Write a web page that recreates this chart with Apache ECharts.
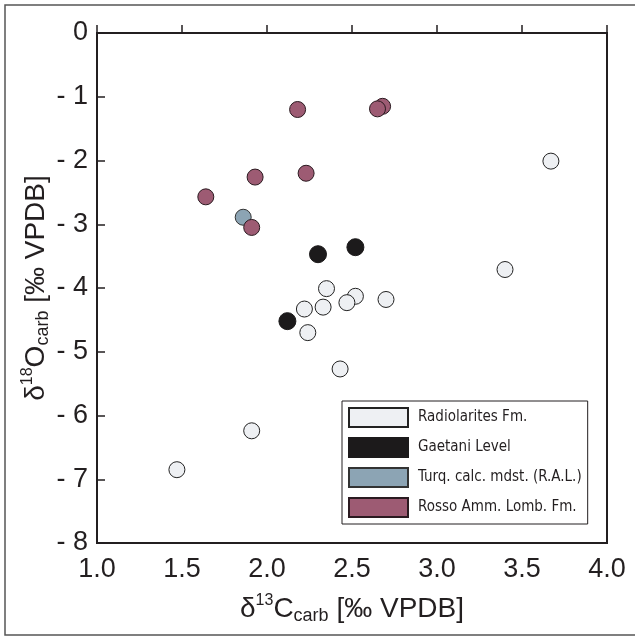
<!DOCTYPE html>
<html>
<head>
<meta charset="utf-8">
<script src="https://cdn.jsdelivr.net/npm/echarts@6/dist/echarts.min.js"></script>
<style>
  html, body { margin: 0; padding: 0; background: #fff; }
  #chart { width: 635px; height: 636px; }
</style>
</head>
<body>
<div id="chart"></div>
<script>
// d13C / d18O values
const radiolarites = [
  [3.67, -2.01], [3.40, -3.71], [2.35, -4.01], [2.52, -4.13],
  [2.47, -4.23], [2.70, -4.18], [2.22, -4.33], [2.33, -4.30],
  [2.24, -4.70], [2.43, -5.27], [1.91, -6.24], [1.47, -6.85]
]
const gaetani = [[2.30, -3.47], [2.52, -3.36], [2.12, -4.52]]
const turquoise = [[1.86, -2.89]]
const rosso = [
  [2.18, -1.20], [2.68, -1.15], [2.65, -1.19], [2.23, -2.20],
  [1.93, -2.26], [1.64, -2.57], [1.91, -3.05]
]
const seriesNames = ['Radiolarites Fm.', 'Gaetani Level', 'Turq. calc. mdst. (R.A.L.)', 'Rosso Amm. Lomb. Fm.']

const chart = echarts.init(document.getElementById('chart'))
const font = '"Liberation Sans", Arial, sans-serif'
const legendFont = '"DejaVu Sans Condensed", "DejaVu Sans", sans-serif'
const ink = '#231f20'

const nameRich = {
  m: { fontSize: 28, fontFamily: font, color: ink, lineHeight: 32 },
  sup: { fontSize: 16, fontFamily: font, color: ink, verticalAlign: 'top', lineHeight: 16 },
  sub: { fontSize: 18, fontFamily: font, color: ink, verticalAlign: 'bottom', lineHeight: 20 }
}

function scatter(name, data, color, size, border) {
  return {
    name: name,
    type: 'scatter',
    data: data,
    symbol: 'circle',
    symbolSize: size,
    itemStyle: { color: color, borderColor: border, borderWidth: 1, opacity: 1 },
    emphasis: { disabled: true }
  }
}

chart.setOption({
  backgroundColor: '#fff',
  animation: false,
  grid: {
    left: 97, top: 33, right: 28, bottom: 93,
    show: true, borderColor: ink, borderWidth: 2
  },
  graphic: [{
    type: 'rect',
    shape: { x: 5, y: 5, width: 640, height: 630 },
    style: { fill: 'none', stroke: '#555', lineWidth: 1.5 },
    silent: true
  }],
  legend: {
    orient: 'vertical',
    left: 342,
    top: 401,
    itemWidth: 59,
    itemHeight: 19,
    itemGap: 9,
    padding: [6, 6, 6, 6],
    icon: 'rect',
    backgroundColor: '#fff',
    borderColor: ink,
    borderWidth: 1,
    borderRadius: 0,
    selectedMode: false,
    data: seriesNames,
    textStyle: { fontFamily: legendFont, fontSize: 15, color: ink, padding: [0, 0, 0, 5] }
  },
  xAxis: {
    type: 'value',
    min: 1, max: 4, interval: 0.5,
    name: '{m|δ}{sup|13}{m|C}{sub|carb}{m| [‰ VPDB]}',
    nameLocation: 'middle',
    nameGap: 50,
    nameMoveOverlap: false,
    nameTextStyle: { rich: nameRich },
    axisLine: { show: true, lineStyle: { color: ink, width: 2 } },
    axisTick: { show: true, inside: true, length: 8, lineStyle: { color: ink, width: 1.5 } },
    axisLabel: {
      margin: 13, fontSize: 27, fontFamily: font, color: ink,
      formatter: v => v.toFixed(1)
    },
    splitLine: { show: false }
  },
  yAxis: {
    type: 'value',
    min: -8, max: 0, interval: 1,
    name: '{m|δ}{sup|18}{m|O}{sub|carb}{m| [‰ VPDB]}',
    nameLocation: 'middle',
    nameGap: 45,
    nameMoveOverlap: false,
    nameTextStyle: { rich: nameRich },
    axisLine: { show: true, lineStyle: { color: ink, width: 2 } },
    axisTick: { show: true, inside: true, length: 8, lineStyle: { color: ink, width: 1.5 } },
    axisLabel: {
      margin: 9, fontSize: 27, fontFamily: font, color: ink,
      formatter: v => (v < 0 ? '- ' + (-v) : String(v))
    },
    splitLine: { show: false }
  },
  series: [
    scatter(seriesNames[0], radiolarites, '#eef0f3', 16, '#222'),
    scatter(seriesNames[1], gaetani, '#1c1a1b', 17, '#1c1a1b'),
    scatter(seriesNames[2], turquoise, '#8ca4b4', 16, '#333'),
    scatter(seriesNames[3], rosso, '#9d5b73', 16, '#2a1a20')
  ]
})
</script>
</body>
</html>
